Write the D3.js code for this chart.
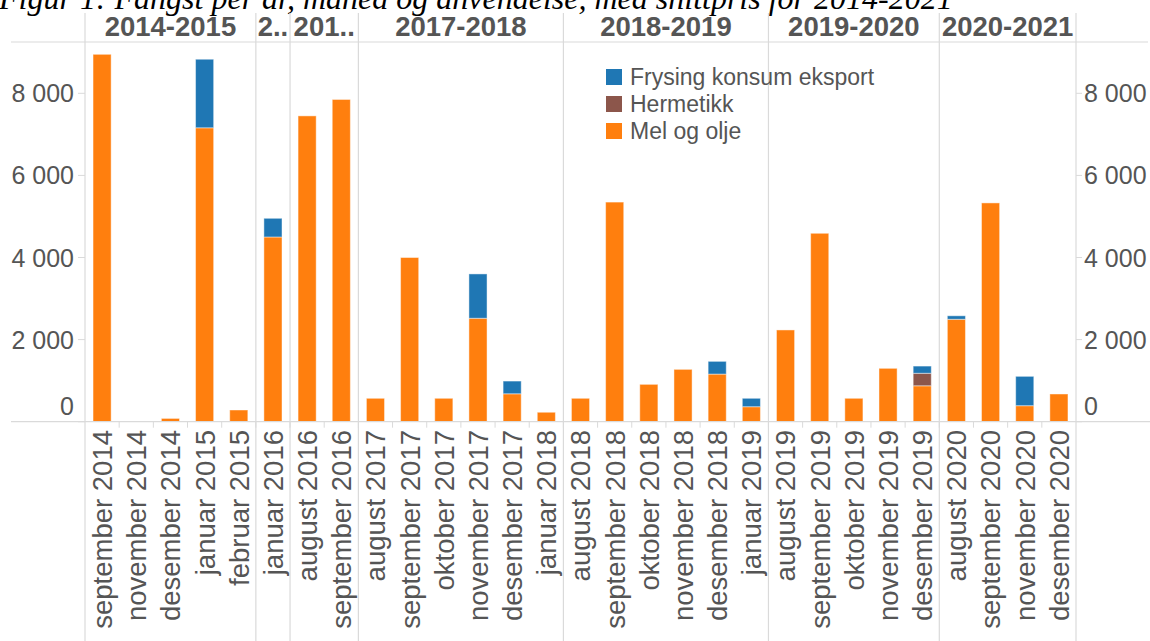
<!DOCTYPE html>
<html>
<head>
<meta charset="utf-8">
<script src="https://cdn.jsdelivr.net/npm/d3@7"></script>
<style>
  html, body { margin: 0; padding: 0; background: #fff; }
  svg { display: block; }
</style>
</head>
<body>
<svg id="chart" width="1150" height="641"></svg>
<script>
// ---------- DATA ----------
const titleText = "Figur 1: Fangst per år, måned og anvendelse, med snittpris for 2014-2021";
const groups = ["2014-2015", "2..", "201..", "2017-2018", "2018-2019", "2019-2020", "2020-2021"];
const groupSizes = [5, 1, 2, 6, 6, 5, 4];
const categories = [
  "september 2014", "november 2014", "desember 2014", "januar 2015", "februar 2015",
  "januar 2016",
  "august 2016", "september 2016",
  "august 2017", "september 2017", "oktober 2017", "november 2017", "desember 2017", "januar 2018",
  "august 2018", "september 2018", "oktober 2018", "november 2018", "desember 2018", "januar 2019",
  "august 2019", "september 2019", "oktober 2019", "november 2019", "desember 2019",
  "august 2020", "september 2020", "november 2020", "desember 2020"
];
const melOgOlje = [
  8950, 0, 80, 7160, 285,
  4500,
  7450, 7850,
  570, 4000, 570, 2520, 680, 230,
  570, 5350, 910, 1275, 1160, 365,
  2235, 4590, 570, 1300, 875,
  2495, 5330, 390, 675
];
const hermetikk = [
  0, 0, 0, 0, 0,
  0,
  0, 0,
  0, 0, 0, 0, 0, 0,
  0, 0, 0, 0, 0, 0,
  0, 0, 0, 0, 305,
  0, 0, 0, 0
];
const frysing = [
  0, 0, 0, 1670, 0,
  455,
  0, 0,
  0, 0, 0, 1080, 310, 0,
  0, 0, 0, 0, 310, 205,
  0, 0, 0, 0, 175,
  85, 0, 715, 0
];
const seriesNames = ["Mel og olje", "Hermetikk", "Frysing konsum eksport"];
const legendOrder = ["Frysing konsum eksport", "Hermetikk", "Mel og olje"];
const yTicks = [0, 2000, 4000, 6000, 8000];

// ---------- LAYOUT ----------
const svg = d3.select("#chart");
const paneLeft = 85, paneRight = 1076, paneTop = 42, paneBottom = 421.7;
const headerTop = 13;
const lineColor = "#dadada";
const textColor = "#555";
const font = "'Liberation Sans', Arial, sans-serif";
const colors = { "Mel og olje": "#ff7f0e", "Hermetikk": "#8c564b", "Frysing konsum eksport": "#1f77b4" };

const x = d3.scaleBand().domain(categories).range([paneLeft, paneRight]).paddingInner(0.47).paddingOuter(0.235);
const step = x.step();
const y = d3.scaleLinear().domain([0, 9250]).range([paneBottom, paneTop]);

// title (clipped at the top, as in the source figure)
svg.append("text")
  .attr("x", -1).attr("y", 9)
  .attr("font-family", "'Liberation Serif', 'Times New Roman', serif")
  .attr("font-style", "italic")
  .attr("font-size", 32)
  .attr("fill", "#000")
  .text(titleText);

// group boundaries
let cum = 0;
const groupInfo = groups.map((g, i) => {
  const start = cum; cum += groupSizes[i];
  return { name: g, x0: paneLeft + start * step, x1: paneLeft + cum * step, start, end: cum };
});

// header line
svg.append("line").attr("x1", 11).attr("x2", 1148).attr("y1", paneTop).attr("y2", paneTop)
  .attr("stroke", lineColor).attr("stroke-width", 1.2);

// vertical lines
const vx = [paneLeft].concat(groupInfo.map(g => g.x1));
svg.selectAll("line.vsep").data(vx).join("line").attr("class", "vsep")
  .attr("x1", d => d).attr("x2", d => d).attr("y1", headerTop).attr("y2", 641)
  .attr("stroke", lineColor).attr("stroke-width", 1.2);

// column ticks below baseline
const colBounds = [];
for (let i = 1; i < categories.length; i++) colBounds.push(paneLeft + i * step);
svg.selectAll("line.ctick").data(colBounds).join("line").attr("class", "ctick")
  .attr("x1", d => d).attr("x2", d => d).attr("y1", paneBottom).attr("y2", paneBottom + 6)
  .attr("stroke", lineColor).attr("stroke-width", 1);

// header labels
svg.selectAll("text.hdr").data(groupInfo).join("text").attr("class", "hdr")
  .attr("x", d => (d.x0 + d.x1) / 2).attr("y", 36)
  .attr("text-anchor", "middle")
  .attr("font-family", font).attr("font-weight", "bold").attr("font-size", 27.5)
  .attr("fill", textColor)
  .text(d => d.name);

// stacked bars
const rows = categories.map((c, i) => ({
  cat: c,
  "Mel og olje": melOgOlje[i],
  "Hermetikk": hermetikk[i],
  "Frysing konsum eksport": frysing[i]
}));
const stack = d3.stack().keys(seriesNames)(rows);
svg.append("g").selectAll("g").data(stack).join("g")
  .attr("fill", d => colors[d.key])
  .selectAll("rect").data(d => d.filter(p => p[1] - p[0] > 0)).join("rect")
  .attr("x", d => x(d.data.cat))
  .attr("width", x.bandwidth())
  .attr("y", d => y(d[1]))
  .attr("height", d => y(d[0]) - y(d[1]))
  .attr("stroke", "#fff").attr("stroke-opacity", 0.45).attr("stroke-width", 1);

// baseline
svg.append("line").attr("x1", 11).attr("x2", 1150).attr("y1", paneBottom).attr("y2", paneBottom)
  .attr("stroke", lineColor).attr("stroke-width", 1.2);

// y axes
const fmt = v => d3.format(",")(v).replace(/,/g, " ");
const labelY = v => Math.min(y(v), paneBottom - 16);
const leftAx = svg.append("g");
leftAx.selectAll("line").data(yTicks).join("line")
  .attr("x1", 78).attr("x2", paneLeft).attr("y1", d => y(d)).attr("y2", d => y(d))
  .attr("stroke", lineColor);
leftAx.selectAll("text").data(yTicks).join("text")
  .attr("x", 74).attr("y", d => labelY(d)).attr("dy", "0.36em")
  .attr("text-anchor", "end")
  .attr("font-family", font).attr("font-size", 25).attr("fill", textColor)
  .text(fmt);
const rightAx = svg.append("g");
rightAx.selectAll("line").data(yTicks).join("line")
  .attr("x1", paneRight).attr("x2", paneRight + 6).attr("y1", d => y(d)).attr("y2", d => y(d))
  .attr("stroke", lineColor);
rightAx.selectAll("text").data(yTicks).join("text")
  .attr("x", 1084).attr("y", d => labelY(d)).attr("dy", "0.36em")
  .attr("text-anchor", "start")
  .attr("font-family", font).attr("font-size", 25).attr("fill", textColor)
  .text(fmt);

// x labels (rotated)
svg.selectAll("text.xl").data(categories).join("text").attr("class", "xl")
  .attr("transform", d => `translate(${x(d) + x.bandwidth() / 2},430) rotate(-90)`)
  .attr("text-anchor", "end").attr("dy", "0.36em")
  .attr("font-family", font).attr("font-size", 27.5).attr("fill", textColor)
  .text(d => d);

// legend
const lg = svg.append("g").attr("transform", "translate(606,69)");
const li = lg.selectAll("g").data(legendOrder).join("g")
  .attr("transform", (d, i) => `translate(0,${i * 27})`);
li.append("rect").attr("width", 16).attr("height", 16).attr("fill", d => colors[d]);
li.append("text").attr("x", 24).attr("y", 8).attr("dy", "0.36em")
  .attr("font-family", font).attr("font-size", 23).attr("fill", textColor)
  .text(d => d);
</script>
</body>
</html>
